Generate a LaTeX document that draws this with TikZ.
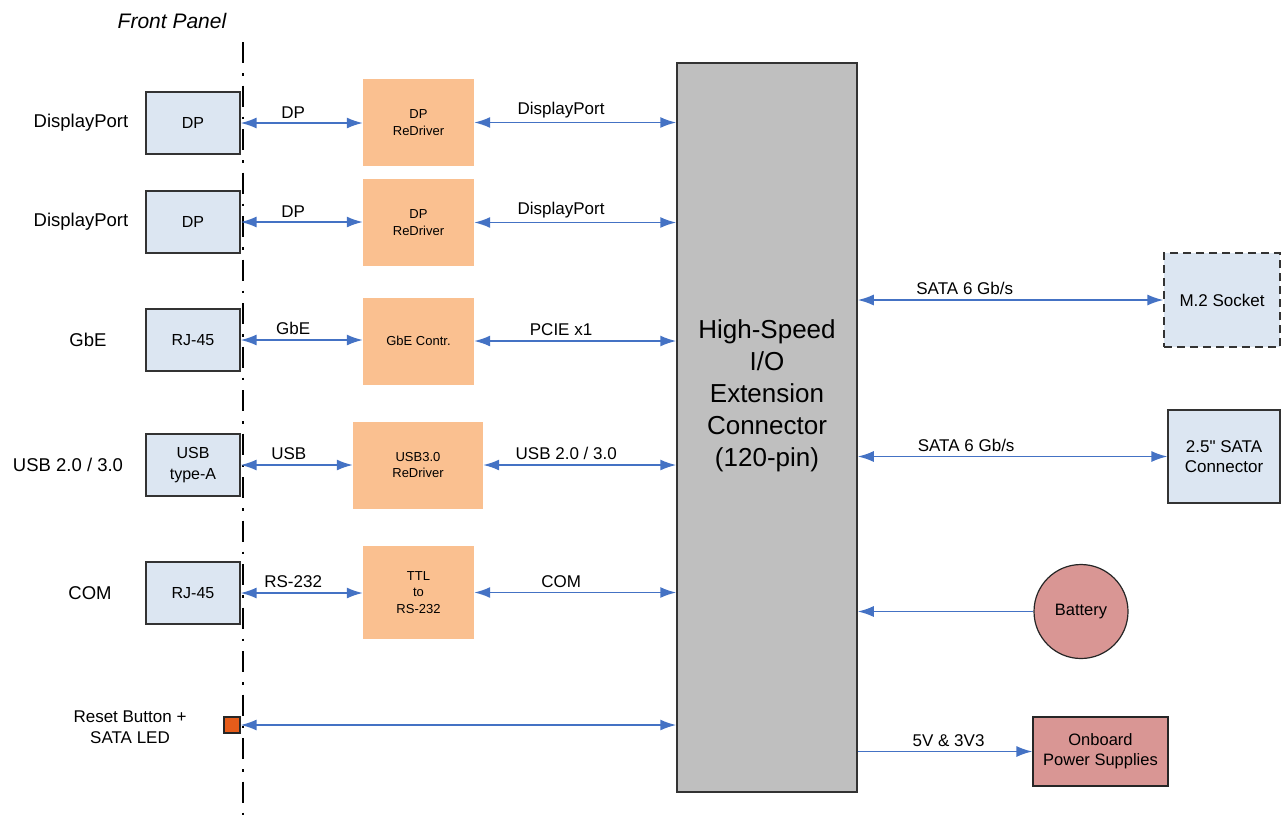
\documentclass[tikz,border=0pt]{standalone}
\usepackage{fontspec}
\setmainfont{Liberation Sans}[Ligatures=TeXOff]
\usetikzlibrary{arrows.meta,positioning,calc}

\definecolor{portblue}{HTML}{DCE6F2}
\definecolor{drvorange}{HTML}{FAC090}
\definecolor{hubgray}{HTML}{BFBFBF}
\definecolor{linkblue}{HTML}{4472C4}
\definecolor{pwrred}{HTML}{D99694}
\definecolor{btnred}{HTML}{E65C1A}

\begin{document}
\begin{tikzpicture}[x=1pt, y=-1pt,
  port/.style={draw=black!80, line width=1.2pt, fill=portblue, minimum width=94pt, minimum height=62pt, align=center, font=\fontsize{16}{21}\selectfont},
  drv/.style={fill=drvorange, minimum width=111pt, minimum height=87pt, align=center, font=\fontsize{13}{16.5}\selectfont},
  hub/.style={draw=black!80, line width=1.5pt, fill=hubgray, minimum width=180pt, minimum height=729pt},
  hubtext/.style={align=center, font=\fontsize{26}{32}\selectfont},
  pwr/.style={draw=black!85, line width=1.2pt, fill=pwrred, align=center, font=\fontsize{16.5}{20}\selectfont},
  btn/.style={draw=black!85, line width=1.2pt, fill=btnred, minimum size=16pt, inner sep=0pt},
  side/.style={align=center, font=\fontsize{18.5}{21}\selectfont},
  panel/.style={line width=2.5pt, dash pattern=on 21pt off 10pt on 2.5pt off 10pt},
  link/.style={draw=linkblue, line width=1.7pt, {Latex[length=16pt,width=11pt]}-{Latex[length=16pt,width=11pt]}},
  feed/.style={draw=linkblue, line width=1.7pt, -{Latex[length=16pt,width=11pt]}},
  lbl/.style={above=3pt, pos=0.43, inner sep=1pt, font=\fontsize{17}{20}\selectfont}
]
\useasboundingbox (0,0) rectangle (1287,823);

% Front panel
\coordinate (fpTop) at (243,42);
\coordinate (fpBot) at (243,823);
\draw[panel] (fpTop) -- (fpBot);
\node[font=\fontsize{21}{25}\selectfont\itshape] (fpTitle) at (172,21) {Front Panel};

% Ports
\foreach \i/\yy/\xx/\side/\port in {1/123/81/DisplayPort/DP, 2/222/81/DisplayPort/DP, 3/340/88/GbE/RJ-45, 4/465/68/{USB 2.0 / 3.0}/{USB\\type-A}, 5/593/90/COM/RJ-45} {
  \node[port] (p\i) at (193,\yy) {\port};
  \node[side] (s\i) at (\xx,\yy) {\side};
}

% Reset button
\node[btn] (rst) at (232,725) {};
\node[side, font=\fontsize{17}{21}\selectfont] (rstText) at (130,727) {Reset Button +\\SATA LED};

% Redrivers / controllers
\node[drv] (d1) at (418.5,122.5) {DP\\ReDriver};
\node[drv] (d2) at (418.5,222.5) {DP\\ReDriver};
\node[drv] (d3) at (418.5,341) {GbE Contr.};
\node[drv, minimum width=130pt] (d4) at (418,465) {USB3.0\\ReDriver};
\node[drv, minimum height=93pt] (d5) at (418.5,592.5) {TTL\\to\\RS-232};

% Connector
\node[hub] (hsio) at (767,427.5) {};
\node[hubtext] (hsioText) at (767,396) {High-Speed\\I/O\\Extension\\Connector\\(120-pin)};

% Storage and power
\node[port, dashed, dash pattern=on 8pt off 5pt, minimum width=116pt, minimum height=94pt, font=\fontsize{17}{20}\selectfont] (m2) at (1222,300) {M.2 Socket};
\node[port, minimum width=112pt, minimum height=93pt, font=\fontsize{17}{20}\selectfont] (sata) at (1224,456.5) {2.5" SATA\\Connector};
\node[pwr, circle, minimum size=94pt, inner sep=0pt] (bat) at (1081,611.5) {Battery};
\node[pwr, minimum width=135pt, minimum height=69pt] (psu) at (1100.5,751.5) {Onboard\\Power Supplies};

% arrows
\draw[link] (p1.east) -- node[lbl] {DP} (p1.east -| d1.west);
\draw[link] (p2.east) -- node[lbl] {DP} (p2.east -| d2.west);
\draw[link] (p3.east) -- node[lbl] {GbE} (p3.east -| d3.west);
\draw[link] (p4.east) -- node[lbl] {USB} (p4.east -| d4.west);
\draw[link] (p5.east) -- node[lbl] {RS-232} (p5.east -| d5.west);
\draw[link] (d1.east) -- node[lbl] {DisplayPort} (d1.east -| hsio.west);
\draw[link] (d2.east) -- node[lbl] {DisplayPort} (d2.east -| hsio.west);
\draw[link] (d3.east) -- node[lbl] {PCIE x1} (d3.east -| hsio.west);
\draw[link] (d4.east) -- node[lbl] {USB 2.0 / 3.0} (d4.east -| hsio.west);
\draw[link] (d5.east) -- node[lbl] {COM} (d5.east -| hsio.west);
\draw[link] (rst.east) -- (rst.east -| hsio.west);
\draw[link] (hsio.east |- m2.west) -- node[lbl, pos=0.35] {SATA 6 Gb/s} (m2.west);
\draw[link] (hsio.east |- sata.west) -- node[lbl, pos=0.35] {SATA 6 Gb/s} (sata.west);
\draw[feed] (bat.west) -- (bat.west -| hsio.east);
\draw[feed] (hsio.east |- psu.west) -- node[lbl, pos=0.52] {5V \& 3V3} (psu.west);
\end{tikzpicture}
\end{document}
